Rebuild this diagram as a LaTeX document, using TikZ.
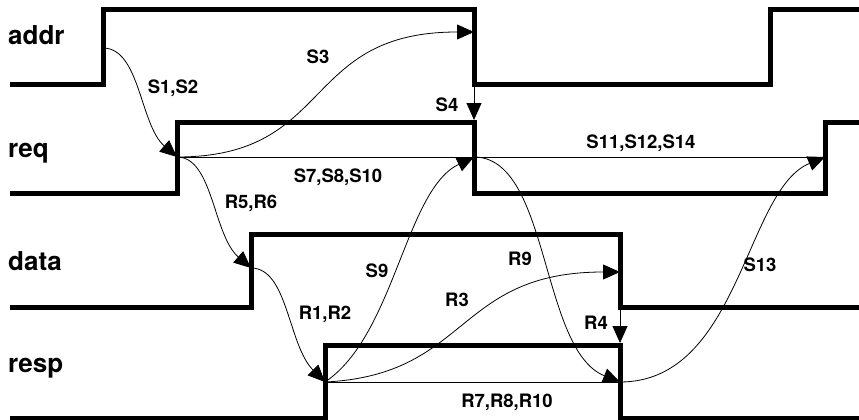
\documentclass[tikz,border=0pt]{standalone}
\usepackage{fontspec}
\setmainfont{TeX Gyre Heros}
\usetikzlibrary{arrows.meta}
\tikzset{
    sigwave/.style={line width=5pt},
    sigarrow/.style={-{Triangle[length=17pt,width=15pt]}, line width=0.8pt},
    sigline/.style={line width=0.8pt},
    signame/.style={anchor=base west, inner sep=0pt, font=\fontsize{26}{30}\selectfont\bfseries},
    sigevent/.style={inner sep=0pt, font=\fontsize{18.5}{22}\selectfont\bfseries}
}

\begin{document}
\begin{tikzpicture}[x=1pt, y=-1pt]
  \useasboundingbox (0,0) rectangle (859,420);
  \draw[sigwave] (10,84) -- (103,84) -- (103,10) -- (474,10) -- (474,84) -- (770,84) -- (770,10) -- (859,10);
  \draw[sigwave] (10,193) -- (177,193) -- (177,122) -- (474,122) -- (474,193) -- (825,193) -- (825,122) -- (859,122);
  \draw[sigwave] (10,307) -- (251,307) -- (251,234) -- (620,234) -- (620,307) -- (859,307);
  \draw[sigwave] (10,418) -- (325,418) -- (325,345) -- (620,345) -- (620,418) -- (859,418);

  \node[signame] (addr) at (8,45)  {addr};
  \node[signame] (req)  at (8,157) {req};
  \node[signame] (data) at (8,270) {data};
  \node[signame] (resp) at (8,372) {resp};

  \coordinate (a1)  at (103,48);
  \coordinate (a2)  at (474,32);
  \coordinate (a2b) at (474,87);
  \coordinate (q1)  at (177,157);
  \coordinate (q2t) at (474,120);
  \coordinate (q2)  at (474,157);
  \coordinate (q3)  at (825,157);
  \coordinate (d1)  at (251,268);
  \coordinate (d2)  at (620,272);
  \coordinate (d2b) at (620,310);
  \coordinate (r2t) at (620,343);
  \coordinate (r1)  at (325,382);
  \coordinate (r2)  at (620,382);

  \draw[sigarrow] (a1) .. controls (140,48) and (140,125) .. (q1);
  \draw[sigarrow] (q1) .. controls (335,157) and (300,32) .. (a2);
  \draw[sigarrow] (a2b) -- (q2t);
  \draw[sigline]  (q1) -- (q2);
  \draw[sigarrow] (q1) .. controls (213,157) and (213,235) .. (d1);
  \draw[sigarrow] (d1) .. controls (288,268) and (288,345) .. (r1);
  \draw[sigarrow] (r1) .. controls (395,335) and (405,190) .. (q2);
  \draw[sigarrow] (r1) .. controls (470,375) and (455,272) .. (d2);
  \draw[sigline]  (q2) -- (q3);
  \draw[sigarrow] (q2) .. controls (550,157) and (540,350) .. (r2);
  \draw[sigarrow] (d2b) -- (r2t);
  \draw[sigline]  (r1) -- (r2);
  \draw[sigarrow] (r2) .. controls (740,382) and (745,190) .. (q3);

  \node[sigevent] (s12)  at (173,88)  {S1,S2};
  \node[sigevent] (s3)   at (318,57)  {S3};
  \node[sigevent] (s4)   at (447,105) {S4};
  \node[sigevent] (s7)   at (338,177) {S7,S8,S10};
  \node[sigevent] (s11)  at (641,143) {S11,S12,S14};
  \node[sigevent] (r56)  at (251,203) {R5,R6};
  \node[sigevent] (s9)   at (377,271) {S9};
  \node[sigevent] (r12)  at (325,314) {R1,R2};
  \node[sigevent] (r3)   at (457,300) {R3};
  \node[sigevent] (r9)   at (520,259) {R9};
  \node[sigevent] (r4)   at (596,323) {R4};
  \node[sigevent] (r7)   at (507,402) {R7,R8,R10};
  \node[sigevent] (s13)  at (760,265) {S13};
\end{tikzpicture}
\end{document}
